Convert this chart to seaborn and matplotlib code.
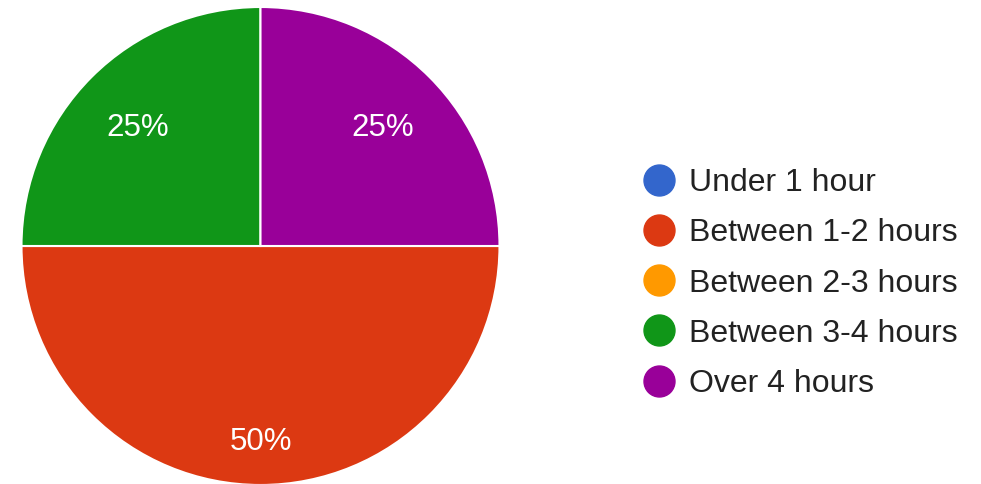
import matplotlib
matplotlib.use("Agg")
import numpy as np
import matplotlib.pyplot as plt
from matplotlib.lines import Line2D
import seaborn as sns

categories = ["Under 1 hour", "Between 1-2 hours", "Between 2-3 hours",
              "Between 3-4 hours", "Over 4 hours"]
shares = [0, 50, 0, 25, 25]
colors = ["#3366CC", "#DC3912", "#FF9900", "#109618", "#990099"]

sns.set_theme(style="white")
plt.rcParams["font.family"] = ["Liberation Sans", "DejaVu Sans"]

W, H = 981, 484
fig = plt.figure(figsize=(W / 100, H / 100), dpi=100)
cx, cy, r = 260.5, 246, 239
ax = fig.add_axes([(cx - r) / W, (H - cy - r) / H, 2 * r / W, 2 * r / H])

vals = [v for v in shares if v > 0]
cols = [c for v, c in zip(shares, colors) if v > 0]
wedges, texts, autotexts = ax.pie(
    vals, colors=cols, startangle=0, counterclock=False,
    autopct=lambda p: f"{p:.0f}%", pctdistance=0.77, radius=1,
    wedgeprops=dict(edgecolor="white", linewidth=1.5),
    textprops=dict(color="white", fontsize=22.5))
# label distance from centre: big slices a bit further out (as in the original)
for w, t, v in zip(wedges, autotexts, vals):
    ang = np.deg2rad((w.theta1 + w.theta2) / 2)
    d = 0.80 if v >= 50 else 0.725
    t.set_position((d * np.cos(ang), d * np.sin(ang) - 0.02))
ax.set_xlim(-1, 1)
ax.set_ylim(-1, 1)
ax.set_aspect("equal")

handles = [Line2D([0], [0], marker="o", linestyle="none", markersize=22.3,
                  markerfacecolor=c, markeredgecolor=c) for c in colors]
leg = fig.legend(handles, categories, loc="center left",
                 bbox_to_anchor=(643 / W, 1 - 283.5 / H), frameon=False,
                 fontsize=23, handlelength=1.0, handletextpad=0.45,
                 labelspacing=0.63, borderpad=0, borderaxespad=0)
for t in leg.get_texts():
    t.set_color("#222222")

fig.savefig("out.png", dpi=100, facecolor="white")
